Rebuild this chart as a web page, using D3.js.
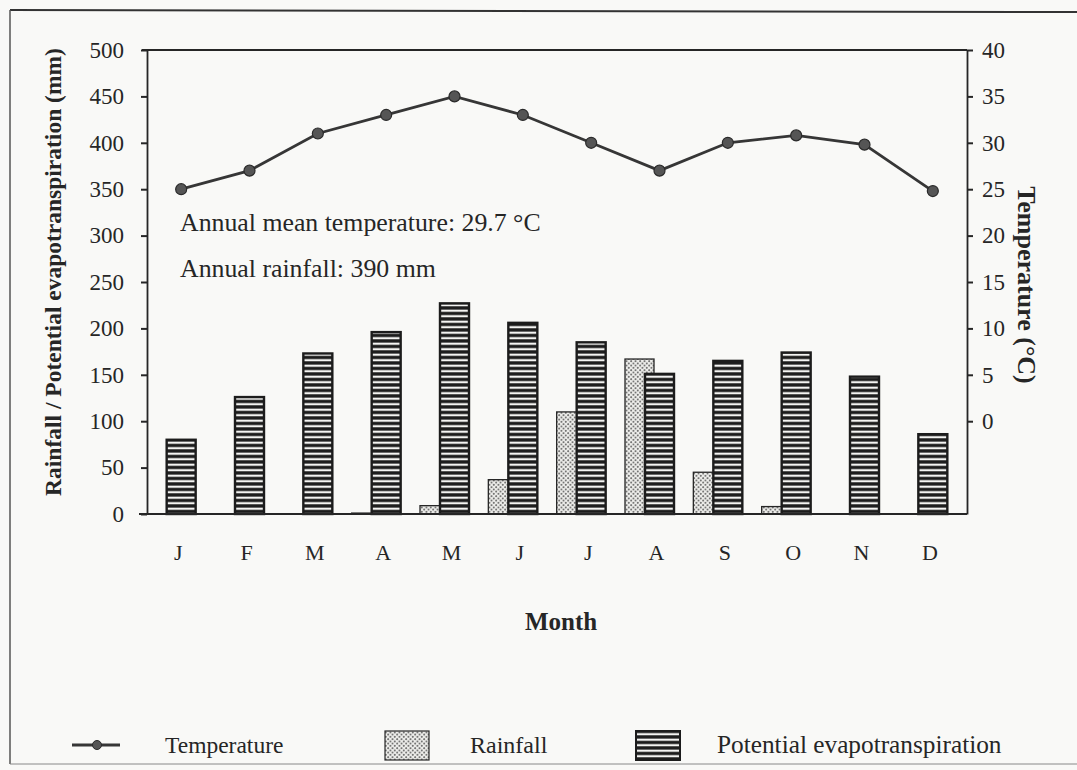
<!DOCTYPE html>
<html>
<head>
<meta charset="utf-8">
<script src="https://cdn.jsdelivr.net/npm/d3@7"></script>
<style>
  html, body { margin: 0; padding: 0; background: #f9f9f7; }
  svg { display: block; }
  text { font-family: "Liberation Serif", "Times New Roman", serif; fill: #262626; }
</style>
</head>
<body>
<svg id="chart" width="1077" height="770"></svg>
<script>
// ---- Data ----
const months = ["J", "F", "M", "A", "M", "J", "J", "A", "S", "O", "N", "D"];
const rainfall = [0, 0, 0, 1, 9, 37, 110, 167, 45, 8, 0, 0];            // mm
const pet = [80, 126, 173, 196, 227, 206, 185, 151, 165, 174, 148, 86];  // mm
const temperature = [25, 27, 31, 33, 35, 33, 30, 27, 30, 30.8, 29.8, 24.8]; // °C
const leftTicks = [0, 50, 100, 150, 200, 250, 300, 350, 400, 450, 500];
const rightTicks = [0, 5, 10, 15, 20, 25, 30, 35, 40];
const annotations = ["Annual mean temperature: 29.7 °C", "Annual rainfall: 390 mm"];
const legendLabels = ["Temperature", "Rainfall", "Potential evapotranspiration"];

// ---- Layout ----
const W = 1077, H = 770;
const L = 147, R = 967, T = 50, B = 514;
const ink = "#262626";

const svg = d3.select("#chart");
const idx = months.map((m, i) => i);

const x = d3.scaleBand().domain(idx).range([L, R]).padding(0);
const yL = d3.scaleLinear().domain([0, 500]).range([B, T]);
const yR = d3.scaleLinear().domain([-10, 40]).range([B, T]);

// ---- Patterns ----
const defs = svg.append("defs");
const stripe = defs.append("pattern").attr("id", "stripes")
  .attr("patternUnits", "userSpaceOnUse").attr("width", 8).attr("height", 5.5);
stripe.append("rect").attr("width", 8).attr("height", 5.5).attr("fill", "#1c1c1c");
stripe.append("rect").attr("y", 1.6).attr("width", 8).attr("height", 2.2).attr("fill", "#f4f4f2");

const dots = defs.append("pattern").attr("id", "dots")
  .attr("patternUnits", "userSpaceOnUse").attr("width", 4.5).attr("height", 4.5);
dots.append("rect").attr("width", 4.5).attr("height", 4.5).attr("fill", "#eeeeeb");
dots.append("circle").attr("cx", 1.1).attr("cy", 1.1).attr("r", 0.9).attr("fill", "#4a4a4a");
dots.append("circle").attr("cx", 3.35).attr("cy", 3.35).attr("r", 0.9).attr("fill", "#4a4a4a");

// ---- Frame ----
svg.append("line").attr("x1", 10).attr("x2", W).attr("y1", 10).attr("y2", 12)
  .attr("stroke", "#333").attr("stroke-width", 2);
svg.append("line").attr("x1", 10).attr("x2", 10).attr("y1", 10).attr("y2", 764)
  .attr("stroke", "#555").attr("stroke-width", 1.5);
svg.append("line").attr("x1", 10).attr("x2", W).attr("y1", 764).attr("y2", 764)
  .attr("stroke", "#888").attr("stroke-width", 1);

// ---- Bars ----
const barW = 29, rainOffset = -20;
svg.append("g").selectAll("rect").data(idx).join("rect")
  .attr("x", i => x(i) + x.bandwidth() / 2 + rainOffset - barW / 2)
  .attr("y", i => yL(rainfall[i]))
  .attr("width", barW)
  .attr("height", i => yL(0) - yL(rainfall[i]))
  .attr("fill", "url(#dots)")
  .attr("stroke", i => rainfall[i] > 0 ? ink : "none").attr("stroke-width", 1.3);

svg.append("g").selectAll("rect").data(idx).join("rect")
  .attr("x", i => x(i) + x.bandwidth() / 2 - barW / 2)
  .attr("y", i => yL(pet[i]))
  .attr("width", barW)
  .attr("height", i => yL(0) - yL(pet[i]))
  .attr("fill", "url(#stripes)")
  .attr("stroke", "#1c1c1c").attr("stroke-width", 2.4);

// ---- Axes ----
const fontTick = 23;
svg.append("line").attr("x1", L - 5).attr("x2", R).attr("y1", T).attr("y2", T)
  .attr("stroke", ink).attr("stroke-width", 2);
svg.append("line").attr("x1", L - 8).attr("x2", R).attr("y1", B).attr("y2", B)
  .attr("stroke", ink).attr("stroke-width", 2);

const gL = svg.append("g").attr("transform", `translate(${L},0)`)
  .call(d3.axisLeft(yL).tickValues(leftTicks).tickSize(6).tickPadding(17).tickSizeOuter(0));
const gR = svg.append("g").attr("transform", `translate(${R},0)`)
  .call(d3.axisRight(yR).tickValues(rightTicks).tickSize(6).tickPadding(9).tickSizeOuter(0));
[gL, gR].forEach(g => {
  g.select(".domain").attr("stroke", ink).attr("stroke-width", 1.8);
  g.selectAll(".tick line").attr("stroke", ink).attr("stroke-width", 2);
  g.selectAll(".tick text").attr("font-size", fontTick).attr("fill", ink)
    .style("font-family", "Liberation Serif, serif");
});

const gX = svg.append("g").attr("transform", `translate(0,${B})`)
  .call(d3.axisBottom(x).tickFormat(i => months[i]).tickSize(0).tickPadding(30));
gX.select(".domain").remove();
gX.selectAll(".tick text").attr("font-size", 22).attr("fill", ink)
  .attr("dx", -3)
  .style("font-family", "Liberation Serif, serif");

// ---- Axis titles ----
svg.append("text").attr("transform", `translate(61,272) rotate(-90)`)
  .attr("text-anchor", "middle").attr("font-size", 23.5).attr("font-weight", "bold")
  .text("Rainfall / Potential evapotranspiration (mm)");
svg.append("text").attr("transform", `translate(1018,285) rotate(90)`)
  .attr("text-anchor", "middle").attr("font-size", 26).attr("font-weight", "bold")
  .text("Temperature (°C)");
svg.append("text").attr("x", 561).attr("y", 630)
  .attr("text-anchor", "middle").attr("font-size", 25).attr("font-weight", "bold")
  .text("Month");

// ---- Temperature line ----
const cx = i => x(i) + x.bandwidth() / 2;
const line = d3.line().x(i => cx(i)).y(i => yR(temperature[i]));
svg.append("path").datum(idx).attr("d", line)
  .attr("fill", "none").attr("stroke", "#363636").attr("stroke-width", 2.8);
svg.append("g").selectAll("circle").data(idx).join("circle")
  .attr("cx", cx).attr("cy", i => yR(temperature[i])).attr("r", 5.5)
  .attr("fill", "#555").attr("stroke", "#2a2a2a").attr("stroke-width", 1.2);

// ---- Annotations ----
svg.selectAll("text.anno").data(annotations).join("text").attr("class", "anno")
  .attr("x", 180).attr("y", (d, i) => 231 + i * 46)
  .attr("font-size", 25.8).text(d => d);

// ---- Legend ----
const ly = 745;
const lg = svg.append("g");
lg.append("line").attr("x1", 72).attr("x2", 120).attr("y1", ly).attr("y2", ly)
  .attr("stroke", "#363636").attr("stroke-width", 2.8);
lg.append("circle").attr("cx", 97).attr("cy", ly).attr("r", 4.5)
  .attr("fill", "#555").attr("stroke", "#2a2a2a");
lg.append("text").attr("x", 165).attr("y", ly + 8).attr("font-size", 23.5).text(legendLabels[0]);
lg.append("rect").attr("x", 385).attr("y", 731).attr("width", 44).attr("height", 29)
  .attr("fill", "url(#dots)").attr("stroke", ink).attr("stroke-width", 1.2);
lg.append("text").attr("x", 470).attr("y", ly + 8).attr("font-size", 24).text(legendLabels[1]);
lg.append("rect").attr("x", 636).attr("y", 731).attr("width", 44).attr("height", 29)
  .attr("fill", "url(#stripes)").attr("stroke", "#1c1c1c").attr("stroke-width", 2);
lg.append("text").attr("x", 717).attr("y", ly + 8).attr("font-size", 25.3).text(legendLabels[2]);
</script>
</body>
</html>
